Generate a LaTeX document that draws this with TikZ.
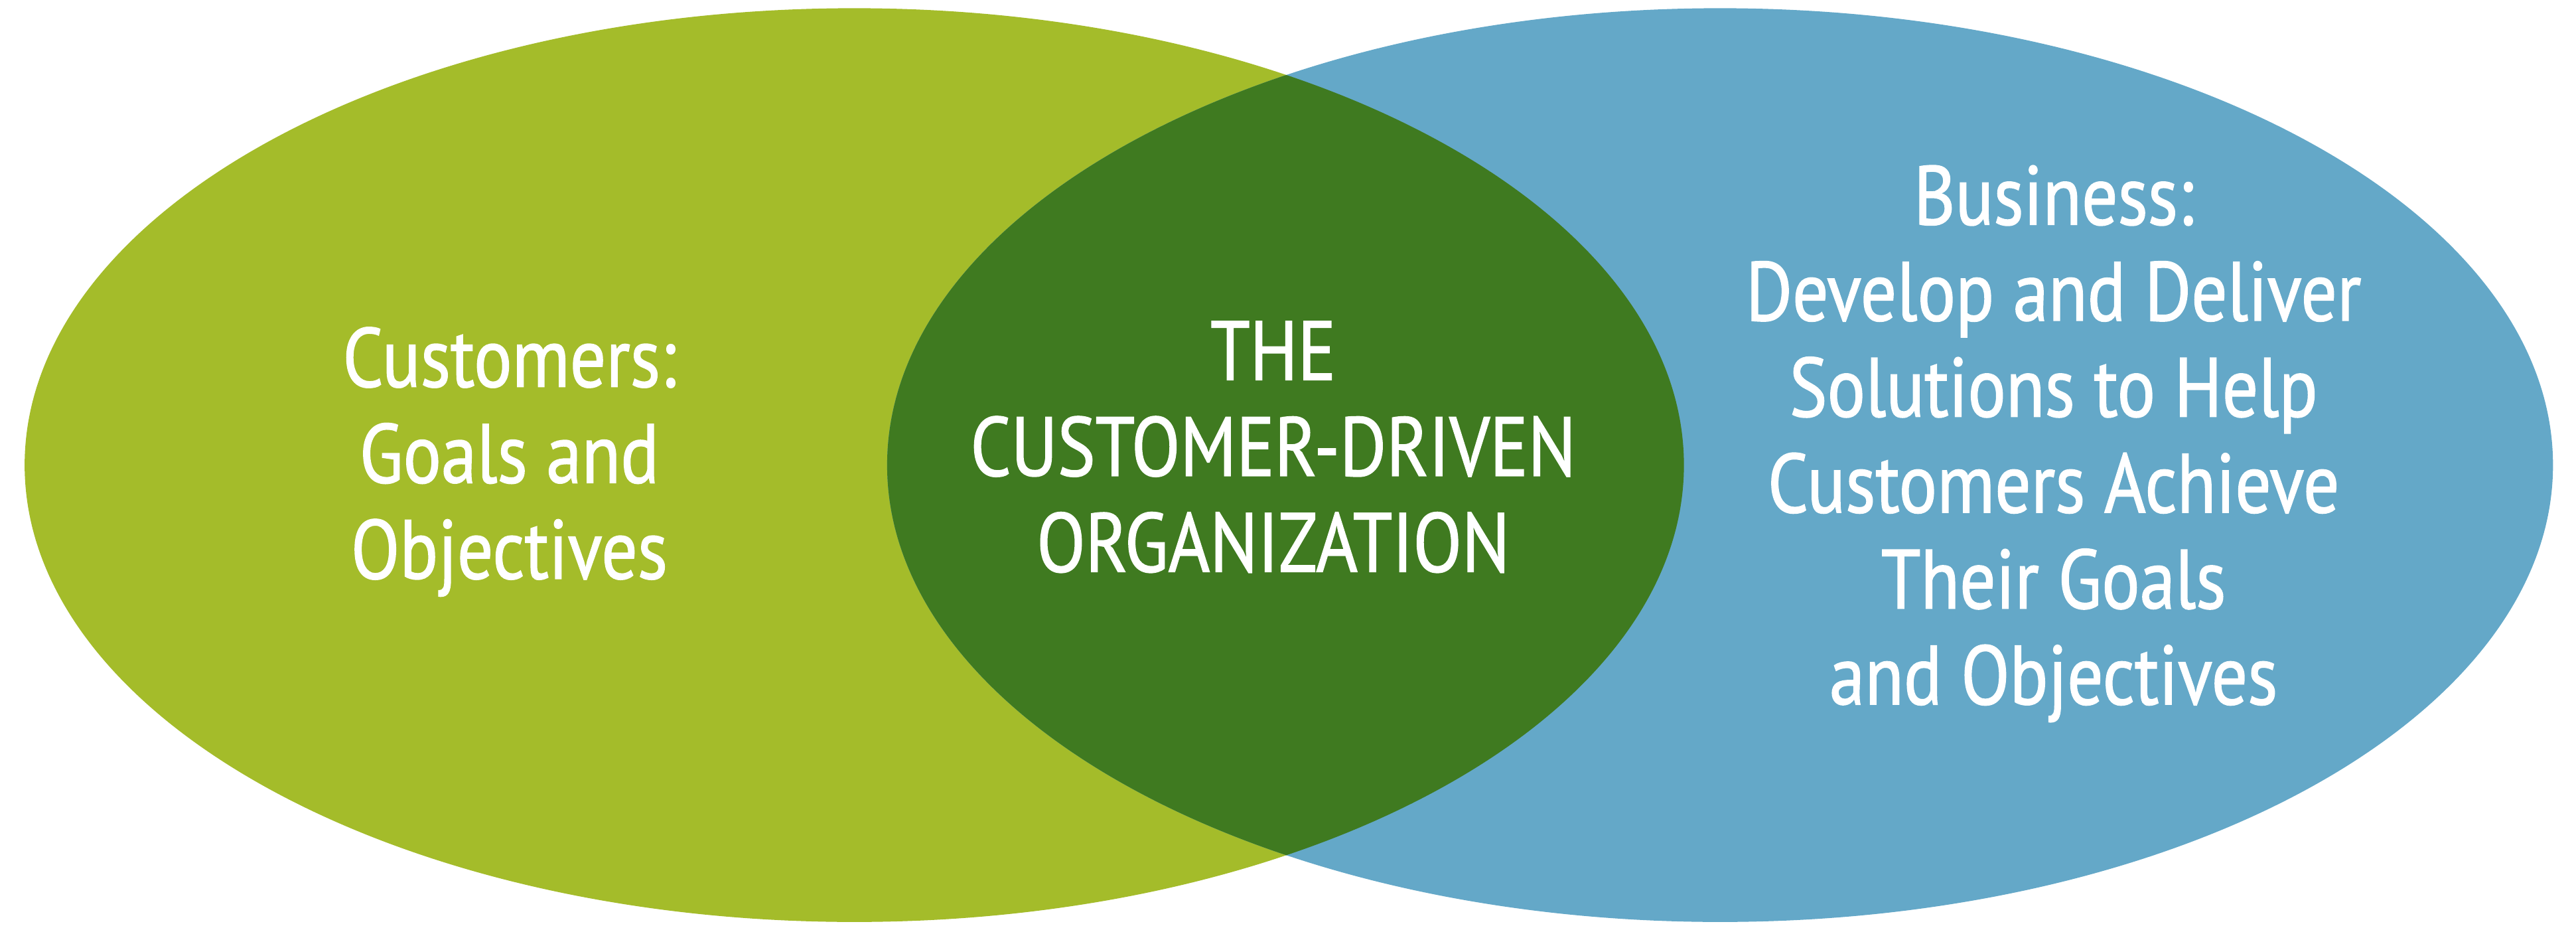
\documentclass[tikz,border=0pt]{standalone}
\usepackage{fontspec}
\setmainfont{PT Sans}[FakeStretch=0.85,FakeBold=1.2]
\definecolor{custgreen}{RGB}{164,188,42}
\definecolor{busblue}{RGB}{100,168,200}
\definecolor{orggreen}{RGB}{63,122,32}
\begin{document}
\begin{tikzpicture}[x=0.01cm,y=-0.01cm,
    label/.style={text=white,align=center,font=\fontsize{14.5}{16.6}\selectfont}]
        \useasboundingbox (0,0) rectangle (1568,567);

        \fill [custgreen] (520,283) ellipse [x radius=505,y radius=278];
        \fill [busblue] (1047,283) ellipse [x radius=507,y radius=278];
        \begin{scope}
          \clip (520,283) ellipse [x radius=505,y radius=278];
          \fill [orggreen] (1047,283) ellipse [x radius=507,y radius=278];
        \end{scope}

        \node (cust) [label] at (310,281) {Customers:\\Goals and\\Objectives};
        \node (org) [label] at (775,272) {THE\\CUSTOMER-DRIVEN\\ORGANIZATION};
        \node (bus) [label] at (1250,270) {Business:\\Develop and Deliver\\Solutions to Help\\Customers Achieve\\Their Goals\\and Objectives};
      \end{tikzpicture}
\end{document}
